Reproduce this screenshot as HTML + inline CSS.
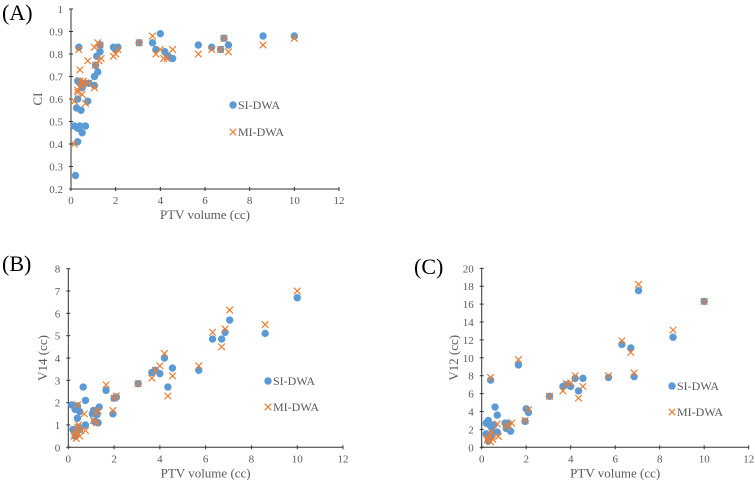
<!DOCTYPE html>
<html><head><meta charset="utf-8"><style>
body{margin:0;background:#fff}
svg{display:block;font-family:"Liberation Serif",serif}
</style></head><body>
<svg id="s" width="755" height="482" viewBox="0 0 755 482"></svg>
<script>
const volA=[0.2,0.15,0.3,0.4,0.5,0.65,0.3,0.25,0.45,0.3,0.75,0.35,0.3,0.4,0.5,0.6,0.8,1.05,1.05,1.2,1.1,1.15,1.3,1.3,1.9,2.1,2.0,3.05,3.65,3.8,4.0,4.2,4.35,4.55,5.7,6.3,6.7,6.85,7.05,8.6,10];
const siA=[0.26,0.48,0.47,0.48,0.45,0.48,0.41,0.56,0.55,0.6,0.59,0.83,0.68,0.67,0.65,0.67,0.67,0.66,0.7,0.72,0.75,0.79,0.81,0.84,0.83,0.83,0.82,0.85,0.85,0.82,0.89,0.81,0.79,0.78,0.84,0.83,0.82,0.87,0.84,0.88,0.88];
const volAm=[0.15,0.15,0.3,0.3,0.35,0.4,0.45,0.5,0.5,0.55,0.4,0.65,0.75,0.8,1.05,1.05,1.2,1.1,1.25,1.35,1.3,1.9,2.0,2.1,3.05,3.65,3.8,4.0,4.15,4.3,4.55,5.7,6.3,6.7,6.85,7.05,8.6,10];
const miA=[0.40,0.59,0.63,0.64,0.82,0.73,0.66,0.67,0.62,0.68,0.68,0.58,0.77,0.67,0.65,0.83,0.85,0.75,0.77,0.78,0.84,0.79,0.8,0.82,0.85,0.88,0.8,0.82,0.78,0.78,0.82,0.80,0.82,0.82,0.87,0.81,0.84,0.87];
const volB=[0.15,0.3,0.4,0.5,0.4,0.65,0.75,0.75,0.2,0.3,0.35,0.45,0.5,1.05,1.1,1.15,1.3,1.35,1.25,1.65,1.95,2.0,2.1,3.05,3.65,3.8,4.0,4.2,4.35,4.55,5.7,6.3,6.7,6.85,7.05,8.6,10];
const siB=[1.9,1.7,1.85,1.6,1.3,2.7,2.1,1.0,0.8,0.5,0.65,0.9,0.8,1.5,1.65,1.15,1.1,1.8,1.45,2.55,1.5,2.2,2.25,2.85,3.35,3.45,3.3,4.0,2.7,3.55,3.45,4.85,4.85,5.15,5.7,5.1,6.7];
const volBm=[0.25,0.3,0.35,0.4,0.45,0.5,0.35,0.4,0.55,0.7,0.75,1.1,1.2,1.25,1.3,1.65,1.95,2.0,2.1,3.05,3.65,3.8,4.0,4.2,4.35,4.55,5.7,6.3,6.7,6.85,7.05,8.6,10];
const miB=[0.5,0.6,0.7,0.9,1.0,0.5,0.4,1.9,0.75,1.5,0.75,1.2,1.55,1.1,1.65,2.8,1.65,2.2,2.3,2.85,3.1,3.45,3.65,4.2,2.3,3.2,3.65,5.15,4.5,5.3,6.15,5.5,7.0];
const volC=[0.2,0.3,0.4,0.35,0.45,0.55,0.6,0.7,0.7,0.2,0.3,0.4,0.45,1.05,1.1,1.2,1.3,1.65,1.95,2.0,2.1,3.05,3.65,3.8,4.0,4.2,4.35,4.55,5.7,6.3,6.7,6.85,7.05,8.6,10];
const siC=[2.7,3.0,7.5,2.5,2.2,2.5,4.5,3.6,1.7,1.5,0.7,1.2,1.5,2.7,2.1,2.7,1.8,9.2,2.9,4.3,3.9,5.7,6.8,7.0,6.8,7.7,6.3,7.7,7.8,11.5,11.1,7.9,17.5,12.3,16.3];
const volCm=[0.4,0.25,0.3,0.35,0.4,0.45,0.5,0.7,0.75,1.1,1.2,1.35,1.65,1.95,2.1,3.05,3.65,3.8,4.0,4.2,4.35,4.55,5.7,6.3,6.7,6.85,7.05,8.6,10];
const miC=[7.8,0.8,1.0,1.3,0.6,1.7,0.9,2.6,1.2,2.3,2.5,2.7,9.8,3.0,4.2,5.7,6.3,7.1,7.2,8.0,5.5,6.8,8.0,11.9,10.6,8.3,18.2,13.1,16.3];
const xTicks=[0,2,4,6,8,10,12];
const yTicksA=[0.2,0.3,0.4,0.5,0.6,0.7,0.8,0.9,1];
const yTicksB=[0,1,2,3,4,5,6,7,8];
const yTicksC=[0,2,4,6,8,10,12,14,16,18,20];

const NS="http://www.w3.org/2000/svg",S=document.getElementById('s');
function mk(t,a,p){const e=document.createElementNS(NS,t);for(const k in a)e.setAttribute(k,a[k]);(p||S).appendChild(e);return e;}
function panel(o){
  const g=mk('g',{});
  
  
  const X=v=>o.x0+(v-0)/12*(o.x1-o.x0);
  const Y=v=>o.y1-(v-o.ymin)/(o.ymax-o.ymin)*(o.y1-o.y0);
  const ax=mk('line',{x1:o.x0,y1:o.y1,x2:o.x1,y2:o.y1,stroke:'#333','stroke-width':1},g);
  
  const ay=mk('line',{x1:o.x0,y1:o.y0,x2:o.x0,y2:o.y1,stroke:'#333','stroke-width':1},g);
  
  xTicks.forEach(v=>{mk('line',{x1:X(v),x2:X(v),y1:o.y1-2,y2:o.y1+2,stroke:'#333'},g);
    const t=mk('text',{x:X(v),y:o.y1+15,'text-anchor':'middle','font-size':11,fill:'#595959'},g);t.textContent=v;
    });
  o.yt.forEach(v=>{mk('line',{x1:o.x0-2,x2:o.x0+2,y1:Y(v),y2:Y(v),stroke:'#333'},g);
    const t=mk('text',{x:o.x0-8,y:Y(v)+4,'text-anchor':'end','font-size':11,fill:'#595959'},g);t.textContent=o.fmt(v);
    });
  o.sx.forEach((v,i)=>{const c=mk('circle',{cx:X(v),cy:Y(o.sy[i]),r:3.7,fill:'#5b9bd5'},g);
    });
  o.mx.forEach((v,i)=>{const cx=X(v),cy=Y(o.my[i]),d=3.3;
    const p=mk('path',{d:`M${cx-d},${cy-d}L${cx+d},${cy+d}M${cx-d},${cy+d}L${cx+d},${cy-d}`,stroke:'#ed7d31','stroke-width':1.2,fill:'none'},g);
    });
  const xt=mk('text',{x:(o.x0+o.x1)/2,y:o.y1+30,'text-anchor':'middle','font-size':13,fill:'#595959'},g);xt.textContent='PTV volume (cc)';
  
  const yt=mk('text',{x:0,y:0,'text-anchor':'middle','font-size':13,fill:'#595959',transform:`translate(${o.ytx},${(o.y0+o.y1)/2}) rotate(-90)`},g);yt.textContent=o.ylab;
  
  const pl=mk('text',{x:o.plx,y:o.ply,'font-size':22,fill:'#000'},g);pl.textContent=o.pl;
  
  const l1=mk('g',{},g);
  mk('circle',{cx:o.lx,cy:o.ly,r:3.7,fill:'#5b9bd5'},l1);
  const a=mk('text',{x:o.lx+5,y:o.ly+4,'font-size':12,fill:'#595959'},l1);a.textContent='SI-DWA';
  const l2=mk('g',{},g);
  const d=3.3,cx=o.lx,cy=o.ly+o.lg;
  mk('path',{d:`M${cx-d},${cy-d}L${cx+d},${cy+d}M${cx-d},${cy+d}L${cx+d},${cy-d}`,stroke:'#ed7d31','stroke-width':1.2},l2);
  const b=mk('text',{x:o.lx+5,y:cy+4,'font-size':12,fill:'#595959'},l2);b.textContent='MI-DWA';
}
panel({name:'panel-a-ci',x0:71,x1:339,y0:9,y1:189,ymin:0.2,ymax:1,yt:yTicksA,fmt:v=>v===1?'1':v.toFixed(1),
  sx:volA,sy:siA,mx:volAm,my:miA,ylab:'CI',ytx:42,pl:'(A)',plx:2,ply:20,lx:233,ly:105,lg:27});
panel({name:'panel-b-v14',x0:68.3,x1:343,y0:268.7,y1:447.3,ymin:0,ymax:8,yt:yTicksB,fmt:v=>String(v),
  sx:volB,sy:siB,mx:volBm,my:miB,ylab:'V14 (cc)',ytx:47,pl:'(B)',plx:2,ply:271,lx:268,ly:381,lg:26});
panel({name:'panel-c-v12',x0:481.7,x1:748.7,y0:268.3,y1:447.3,ymin:0,ymax:20,yt:yTicksC,fmt:v=>String(v),
  sx:volC,sy:siC,mx:volCm,my:miC,ylab:'V12 (cc)',ytx:458,pl:'(C)',plx:414,ply:274,lx:672,ly:386,lg:26});
</script>
</body></html>
